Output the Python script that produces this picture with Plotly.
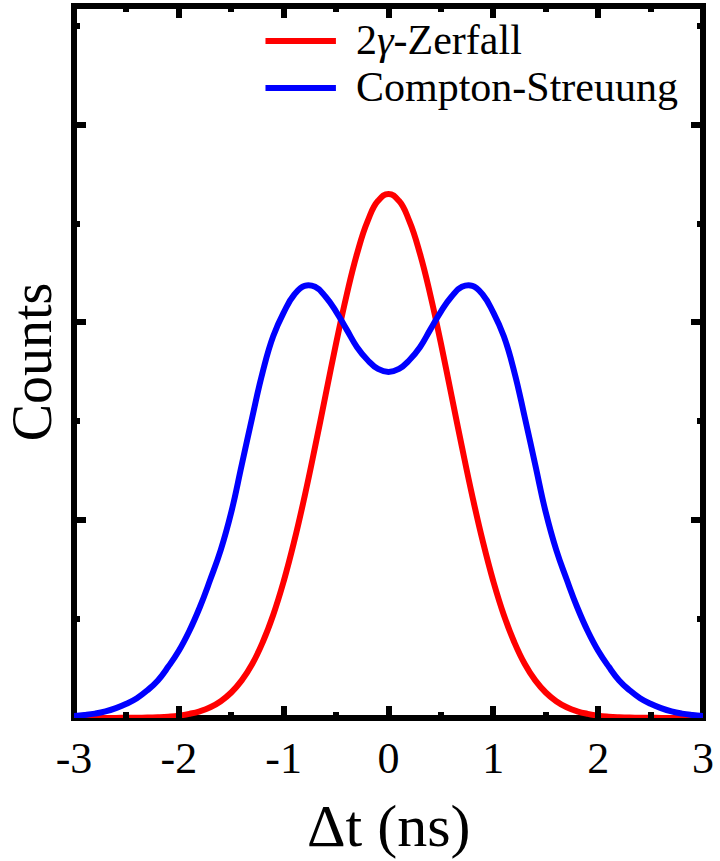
import plotly.graph_objects as go

# ---- data ----
dt_ns = [-3.0, -2.9, -2.8, -2.7, -2.6, -2.5, -2.4, -2.3, -2.2, -2.1,
         -2.0, -1.9, -1.8, -1.7, -1.6, -1.5, -1.4, -1.3, -1.2, -1.1,
         -1.0, -0.9, -0.8, -0.7, -0.6, -0.5, -0.4, -0.3, -0.2, -0.1,
         0.0, 0.1, 0.2, 0.3, 0.4, 0.5, 0.6, 0.7, 0.8, 0.9,
         1.0, 1.1, 1.2, 1.3, 1.4, 1.5, 1.6, 1.7, 1.8, 1.9,
         2.0, 2.1, 2.2, 2.3, 2.4, 2.5, 2.6, 2.7, 2.8, 2.9, 3.0]

zerfall_counts = [0.0, 0.0, 0.0, 0.0, 0.0005, 0.001, 0.001, 0.002, 0.004, 0.007,
                  0.012, 0.021, 0.034, 0.054, 0.085, 0.129, 0.19, 0.273, 0.383, 0.521,
                  0.691, 0.892, 1.121, 1.372, 1.633, 1.894, 2.137, 2.348, 2.511, 2.615,
                  2.65, 2.615, 2.511, 2.348, 2.137, 1.894, 1.633, 1.372, 1.121, 0.892,
                  0.691, 0.521, 0.383, 0.273, 0.19, 0.129, 0.085, 0.054, 0.034, 0.021,
                  0.012, 0.007, 0.004, 0.002, 0.001, 0.001, 0.0005, 0.0, 0.0, 0.0, 0.0]

compton_counts = [0.01, 0.015, 0.022, 0.033, 0.05, 0.072, 0.10, 0.14, 0.19, 0.26,
                  0.34, 0.44, 0.56, 0.70, 0.85, 1.04, 1.28, 1.52, 1.75, 1.93,
                  2.05, 2.14, 2.185, 2.18, 2.13, 2.055, 1.965, 1.875, 1.81, 1.765,
                  1.75, 1.765, 1.81, 1.875, 1.965, 2.055, 2.13, 2.18, 2.185, 2.14,
                  2.05, 1.93, 1.75, 1.52, 1.28, 1.04, 0.85, 0.70, 0.56, 0.44,
                  0.34, 0.26, 0.19, 0.14, 0.10, 0.072, 0.05, 0.033, 0.022, 0.015, 0.01]

x_tick_vals = [-3, -2, -1, 0, 1, 2, 3]
x_tick_text = ["-3", "-2", "-1", "0", "1", "2", "3"]
x_minor_vals = [-2.5, -1.5, -0.5, 0.5, 1.5, 2.5]
y_tick_vals = [1, 2, 3]
y_minor_vals = [0.5, 1.5, 2.5, 3.5]

series_names = ["2<i>γ</i>-Zerfall", "Compton-Streuung"]
series_colors = ["#ff0000", "#0000ff"]

# ---- layout geometry (pixels) ----
W_FIG, H_FIG = 720, 861
L, R, T, B = 74, 708, 6, 718
PW, PH = R - L, B - T
FONT = "Liberation Serif"


def px_x(p):
    return (p - L) / PW


def px_y(p):
    return (B - p) / PH


fig = go.Figure()
for yv, name, col in zip([zerfall_counts, compton_counts], series_names, series_colors):
    fig.add_trace(go.Scatter(x=dt_ns, y=yv, mode="lines", name=name,
                             line=dict(color=col, width=6, shape="spline", smoothing=1.3),
                             showlegend=False))

axis_common = dict(showgrid=False, zeroline=False, showline=False,
                   ticks="inside", ticklen=12, tickwidth=6, tickcolor="black",
                   mirror="ticks")

fig.update_xaxes(range=[-3, 3], tickvals=x_tick_vals, ticktext=x_tick_text,
                 tickfont=dict(family=FONT, size=44, color="black"),
                 ticklabelstandoff=10,
                 minor=dict(tickvals=x_minor_vals, ticks="inside", ticklen=6,
                            tickwidth=6, tickcolor="black"),
                 **axis_common)
fig.update_yaxes(range=[0, 3.6], tickvals=y_tick_vals, showticklabels=False,
                 minor=dict(tickvals=y_minor_vals, ticks="inside", ticklen=6,
                            tickwidth=6, tickcolor="black"),
                 **axis_common)

shapes = [dict(type="rect", xref="paper", yref="paper", x0=0, x1=1, y0=0, y1=1,
               line=dict(color="black", width=6), layer="below")]
annotations = []
legend_rows_y = [41, 88]
for name, col, ypix in zip(series_names, series_colors, legend_rows_y):
    shapes.append(dict(type="line", xref="paper", yref="paper",
                       x0=px_x(267), x1=px_x(338), y0=px_y(ypix), y1=px_y(ypix),
                       line=dict(color=col, width=6)))
    annotations.append(dict(xref="paper", yref="paper", x=px_x(356), y=px_y(ypix - 1),
                            xanchor="left", yanchor="middle", showarrow=False,
                            text=name, font=dict(family=FONT, size=42, color="black")))

annotations.append(dict(xref="paper", yref="paper", x=0.5, y=px_y(826),
                        xanchor="center", yanchor="middle", showarrow=False,
                        text="Δt (ns)", font=dict(family=FONT, size=60, color="black")))
annotations.append(dict(xref="paper", yref="paper", x=px_x(32), y=0.5,
                        xanchor="center", yanchor="middle", showarrow=False, textangle=-90,
                        text="Counts", font=dict(family=FONT, size=56, color="black")))

fig.update_layout(width=W_FIG, height=H_FIG, autosize=False,
                  margin=dict(l=L, r=W_FIG - R, t=T, b=H_FIG - B, pad=0),
                  paper_bgcolor="white", plot_bgcolor="white",
                  font=dict(family=FONT),
                  shapes=shapes, annotations=annotations, showlegend=False)

fig.write_html("out.html")
